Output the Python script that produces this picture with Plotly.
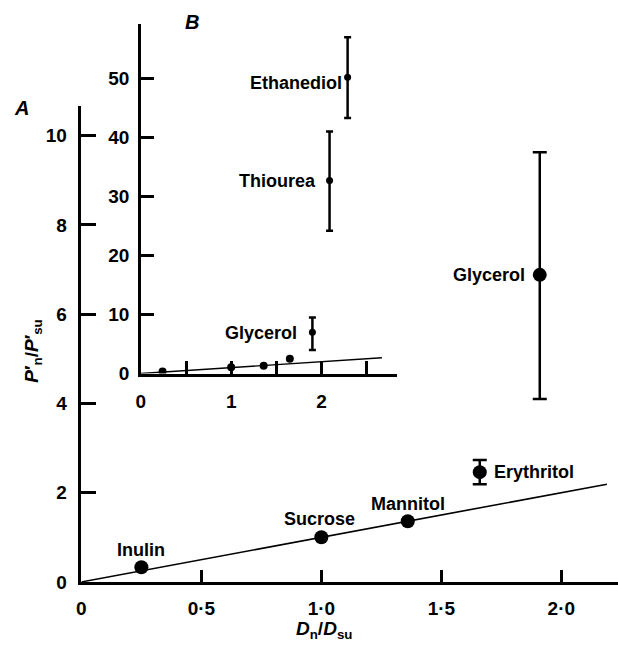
import plotly.graph_objects as go

W, H = 618, 646

# ---- Panel A: permeability ratio vs diffusion ratio ----
solutes_a = ["Inulin", "Sucrose", "Mannitol", "Erythritol", "Glycerol"]
d_ratio_a = [0.25, 1.0, 1.36, 1.66, 1.91]
p_ratio_a = [0.33, 1.0, 1.36, 2.46, 6.88]
err_up_a = [None, None, None, 0.27, 2.75]
err_dn_a = [None, None, None, 0.27, 2.78]

# ---- Panel B (inset): same data plus the fast solutes ----
solutes_b = ["Inulin", "Sucrose", "Mannitol", "Erythritol", "Glycerol", "Thiourea", "Ethanediol"]
d_ratio_b = [0.24, 1.0, 1.36, 1.65, 1.90, 2.09, 2.29]
p_ratio_b = [0.33, 1.05, 1.3, 2.5, 7.0, 32.7, 50.2]
err_up_b = [None, None, None, None, 2.5, 8.3, 6.8]
err_dn_b = [None, None, None, None, 3.0, 8.5, 6.9]

# line of identity (P ratio = D ratio)
fit_slope = 1.0
fit_x_a = [0, 2.19]
fit_x_b = [0, 2.67]

# axis ticks
xticks_a = [0, 0.5, 1.0, 1.5, 2.0]
xticklabels_a = ["0", "0·5", "1·0", "1·5", "2·0"]
yticks_a = [0, 2, 4, 6, 8, 10]
xticks_b = [0, 0.5, 1, 1.5, 2, 2.5]
xticklabels_b = ["0", "", "1", "", "2", ""]
yticks_b = [0, 10, 20, 30, 40, 50]

FONT = "Liberation Sans, Arial, sans-serif"
BLACK = "black"


def px(x):
    return x / W


def py(y):
    return 1 - y / H


def split(xs, ys, up, dn, with_err):
    sx, sy, su, sd = [], [], [], []
    for x, y, u, d in zip(xs, ys, up, dn):
        if (u is not None) == with_err:
            sx.append(x)
            sy.append(y)
            su.append(u)
            sd.append(d)
    return sx, sy, su, sd


fig = go.Figure()

# Panel A traces
fig.add_trace(go.Scatter(
    x=fit_x_a, y=[fit_slope * v for v in fit_x_a], mode="lines",
    line=dict(color=BLACK, width=1.6), xaxis="x", yaxis="y", hoverinfo="skip"))
ax, ay, _, _ = split(d_ratio_a, p_ratio_a, err_up_a, err_dn_a, False)
fig.add_trace(go.Scatter(
    x=ax, y=ay, mode="markers", marker=dict(color=BLACK, size=14),
    xaxis="x", yaxis="y"))
ex, ey, eu, ed = split(d_ratio_a, p_ratio_a, err_up_a, err_dn_a, True)
fig.add_trace(go.Scatter(
    x=ex, y=ey, mode="markers", marker=dict(color=BLACK, size=14),
    error_y=dict(type="data", symmetric=False, array=eu, arrayminus=ed,
                 color=BLACK, thickness=2.5, width=7),
    xaxis="x", yaxis="y"))

# Panel B traces
fig.add_trace(go.Scatter(
    x=fit_x_b, y=[fit_slope * v for v in fit_x_b], mode="lines",
    line=dict(color=BLACK, width=1.4), xaxis="x2", yaxis="y2", hoverinfo="skip"))
bx, by, _, _ = split(d_ratio_b, p_ratio_b, err_up_b, err_dn_b, False)
fig.add_trace(go.Scatter(
    x=bx, y=by, mode="markers", marker=dict(color=BLACK, size=8),
    xaxis="x2", yaxis="y2"))
fx, fy, fu, fd = split(d_ratio_b, p_ratio_b, err_up_b, err_dn_b, True)
fig.add_trace(go.Scatter(
    x=fx, y=fy, mode="markers", marker=dict(color=BLACK, size=7),
    error_y=dict(type="data", symmetric=False, array=fu, arrayminus=fd,
                 color=BLACK, thickness=2.5, width=3.5),
    xaxis="x2", yaxis="y2"))

axis_common = dict(showgrid=False, zeroline=False, showline=True,
                   linecolor=BLACK, linewidth=2.5, ticks="inside",
                   tickcolor=BLACK, tickwidth=2.5,
                   tickfont=dict(family=FONT, size=19, color=BLACK, weight="bold"))

fig.update_layout(
    width=W, height=H,
    margin=dict(l=0, r=0, t=0, b=0),
    paper_bgcolor="white", plot_bgcolor="rgba(0,0,0,0)",
    showlegend=False,
    xaxis=dict(axis_common, domain=[px(77), 1], range=[0, 2.236],
               anchor="y", tickmode="array", tickvals=xticks_a,
               ticktext=xticklabels_a, ticklen=12, ticklabelstandoff=8),
    yaxis=dict(axis_common, domain=[py(592), py(108)], range=[0, 10.66],
               anchor="x", tickmode="array", tickvals=yticks_a, ticklen=15,
               ticklabelstandoff=8),
    xaxis2=dict(axis_common, domain=[px(137), px(395)], range=[0, 2.835],
                anchor="y2", tickmode="array", tickvals=xticks_b,
                ticktext=xticklabels_b, ticklen=13, ticklabelstandoff=9),
    yaxis2=dict(axis_common, domain=[py(380), py(24)], range=[0, 59.3],
                anchor="x2", tickmode="array", tickvals=yticks_b, ticklen=13,
                ticklabelstandoff=5),
)

ann_font = dict(family=FONT, size=18, color=BLACK, weight="bold")

# point labels, panel A
labels_a = {
    "Inulin": dict(xanchor="center", xshift=0, yshift=17),
    "Sucrose": dict(xanchor="center", xshift=-2, yshift=18),
    "Mannitol": dict(xanchor="center", xshift=0, yshift=17),
    "Erythritol": dict(xanchor="left", xshift=12, yshift=0),
    "Glycerol": dict(xanchor="right", xshift=-13, yshift=0),
}
for name, x, y in zip(solutes_a, d_ratio_a, p_ratio_a):
    o = labels_a[name]
    fig.add_annotation(x=x, y=y, xref="x", yref="y", text=name, showarrow=False,
                       font=ann_font, xanchor=o["xanchor"], yanchor="middle",
                       xshift=o["xshift"], yshift=o["yshift"])

# point labels, panel B
labels_b = {
    "Glycerol": dict(xshift=-13, yshift=-1),
    "Thiourea": dict(xshift=-12, yshift=0),
    "Ethanediol": dict(xshift=-4, yshift=-6),
}
for name, x, y in zip(solutes_b, d_ratio_b, p_ratio_b):
    if name in labels_b:
        o = labels_b[name]
        fig.add_annotation(x=x, y=y, xref="x2", yref="y2", text=name,
                           showarrow=False, font=ann_font, xanchor="right",
                           yanchor="middle", xshift=o["xshift"], yshift=o["yshift"])

# panel letters and axis titles
letter_font = dict(family=FONT, size=20, color=BLACK, weight="bold")
fig.add_annotation(x=px(17), y=py(110), xref="paper", yref="paper",
                   text="<i>A</i>", showarrow=False, font=letter_font,
                   xanchor="center", yanchor="middle")
fig.add_annotation(x=px(189), y=py(22), xref="paper", yref="paper",
                   text="<i>B</i>", showarrow=False, font=letter_font,
                   xanchor="center", yanchor="middle")
fig.add_annotation(x=px(322), y=0, xref="paper", yref="paper",
                   text="<i>D</i><sub>n</sub>/<i>D</i><sub>su</sub>",
                   showarrow=False, xanchor="center", yanchor="bottom", yshift=-9,
                   font=dict(family=FONT, size=19, color=BLACK, weight="bold"))
fig.add_annotation(x=px(28), y=py(357), xref="paper", yref="paper",
                   text="<i>P</i>′<sub>n</sub>/<i>P</i>′<sub>su</sub>",
                   textangle=-90, showarrow=False, xanchor="center", yanchor="middle",
                   font=dict(family=FONT, size=19, color=BLACK, weight="bold"))

fig.write_html("out.html")
